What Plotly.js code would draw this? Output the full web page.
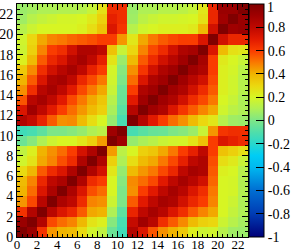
<!DOCTYPE html>
<html>
<head>
<meta charset="utf-8">
<script src="https://cdn.plot.ly/plotly-3.0.1.min.js"></script>
<style>html,body{margin:0;padding:0;background:#fff;}#chart{width:303px;height:252px;}</style>
</head>
<body>
<div id="chart"></div>
<script>
// Variable indices (0..22) and lower-triangle correlation values, row by row
const labels = [0,1,2,3,4,5,6,7,8,9,10,11,12,13,14,15,16,17,18,19,20,21,22];
const r0  = [1];
const r1  = [0.92, 1];
const r2  = [0.63, 0.84, 1];
const r3  = [0.45, 0.58, 0.82, 1];
const r4  = [0.40, 0.52, 0.72, 0.86, 1];
const r5  = [0.38, 0.48, 0.66, 0.80, 0.86, 1];
const r6  = [0.29, 0.39, 0.55, 0.65, 0.72, 0.85, 1];
const r7  = [0.18, 0.26, 0.42, 0.48, 0.57, 0.65, 0.85, 1];
const r8  = [0.14, 0.22, 0.40, 0.46, 0.52, 0.60, 0.74, 0.85, 1];
const r9  = [-0.04, 0.02, 0.10, 0.17, 0.20, 0.20, 0.25, 0.32, 0.44, 1];
const r10 = [-0.14, -0.12, -0.07, 0.00, 0.00, 0.02, 0.05, 0.10, 0.13, 0.90, 1];
const r11 = [0.84, 0.78, 0.67, 0.55, 0.46, 0.47, 0.38, 0.28, 0.20, 0.05, -0.12, 1];
const r12 = [0.72, 0.90, 0.80, 0.70, 0.60, 0.52, 0.45, 0.38, 0.32, 0.09, -0.08, 0.83, 1];
const r13 = [0.56, 0.82, 0.88, 0.80, 0.70, 0.58, 0.50, 0.42, 0.35, 0.12, -0.05, 0.70, 0.90, 1];
const r14 = [0.46, 0.64, 0.82, 0.88, 0.80, 0.70, 0.58, 0.50, 0.42, 0.16, -0.04, 0.60, 0.85, 0.90, 1];
const r15 = [0.40, 0.55, 0.72, 0.85, 0.88, 0.80, 0.66, 0.58, 0.50, 0.18, 0.00, 0.52, 0.72, 0.85, 0.90, 1];
const r16 = [0.34, 0.47, 0.64, 0.75, 0.82, 0.88, 0.80, 0.68, 0.60, 0.19, 0.02, 0.46, 0.62, 0.75, 0.85, 0.90, 1];
const r17 = [0.22, 0.38, 0.55, 0.66, 0.72, 0.82, 0.88, 0.80, 0.68, 0.26, 0.06, 0.38, 0.55, 0.65, 0.75, 0.82, 0.90, 1];
const r18 = [0.17, 0.32, 0.48, 0.60, 0.64, 0.75, 0.85, 0.85, 0.80, 0.36, 0.16, 0.30, 0.48, 0.58, 0.65, 0.75, 0.85, 0.88, 1];
const r19 = [0.18, 0.30, 0.42, 0.48, 0.50, 0.53, 0.55, 0.57, 0.60, 0.60, 0.45, 0.25, 0.42, 0.50, 0.55, 0.58, 0.60, 0.60, 0.72, 1];
const r20 = [0.12, 0.17, 0.20, 0.20, 0.20, 0.20, 0.22, 0.28, 0.36, 0.72, 0.62, 0.12, 0.18, 0.20, 0.22, 0.22, 0.22, 0.24, 0.38, 0.75, 1];
const r21 = [0.07, 0.12, 0.15, 0.17, 0.19, 0.19, 0.20, 0.24, 0.32, 0.68, 0.64, 0.07, 0.13, 0.16, 0.18, 0.18, 0.19, 0.20, 0.27, 0.66, 0.90, 1];
const r22 = [0.06, 0.08, 0.10, 0.10, 0.11, 0.11, 0.12, 0.16, 0.27, 0.65, 0.64, 0.06, 0.10, 0.10, 0.12, 0.12, 0.13, 0.16, 0.25, 0.66, 0.92, 0.92, 1];
const lower = [r0,r1,r2,r3,r4,r5,r6,r7,r8,r9,r10,r11,r12,r13,r14,r15,r16,r17,r18,r19,r20,r21,r22];

// colour-bar ticks; the top label "1" is drawn separately so it stays inside the canvas
const cbTicks = [-1,-0.8,-0.6,-0.4,-0.2,0,0.2,0.4,0.6,0.8,1];
const cbText  = ['-1','-0.8','-0.6','-0.4','-0.2','0','0.2','0.4','0.6','0.8',''];
const cbTopLabel = '1';

// symmetric matrix from the lower triangle
const n = labels.length;
const z = [];
for (let i = 0; i < n; i++) {
  const row = [];
  for (let j = 0; j < n; j++) row.push(j <= i ? lower[i][j] : lower[j][i]);
  z.push(row);
}
const centers = labels.map(v => v + 0.5);

const cs = [
  [0.00,'rgb(0,0,120)'],
  [0.10,'rgb(0,60,180)'],
  [0.20,'rgb(0,110,210)'],
  [0.30,'rgb(0,185,240)'],
  [0.35,'rgb(0,205,245)'],
  [0.40,'rgb(40,215,205)'],
  [0.45,'rgb(80,222,170)'],
  [0.50,'rgb(125,230,135)'],
  [0.55,'rgb(175,240,85)'],
  [0.60,'rgb(215,245,35)'],
  [0.65,'rgb(235,215,15)'],
  [0.70,'rgb(240,180,0)'],
  [0.75,'rgb(250,120,0)'],
  [0.80,'rgb(250,60,0)'],
  [0.85,'rgb(225,25,0)'],
  [0.90,'rgb(190,8,0)'],
  [0.95,'rgb(160,0,0)'],
  [1.00,'rgb(128,0,0)']
];

const serif = '"Liberation Serif", "DejaVu Serif", serif';
const font = {family: serif, size: 14, color: '#000'};

const trace = {
  type: 'heatmap',
  x: centers, y: centers, z: z,
  zmin: -1.0005, zmax: 1.0005,
  colorscale: cs,
  xgap: 0, ygap: 0,
  hoverinfo: 'skip',
  colorbar: {
    thickness: 15, thicknessmode: 'pixels',
    len: 1, lenmode: 'fraction',
    x: 1.004, xanchor: 'left', xpad: 0,
    y: 0, yanchor: 'bottom', ypad: 0,
    outlinecolor: '#000', outlinewidth: 1,
    tickmode: 'array',
    tickvals: cbTicks, ticktext: cbText,
    ticks: 'inside', ticklen: 8, tickcolor: '#000', tickwidth: 1,
    tickfont: font
  }
};

const axisCommon = {
  range: [0, 23],
  tick0: 0, dtick: 2,
  ticks: 'inside', ticklen: 6, tickcolor: '#000', tickwidth: 1,
  minor: {ticks: 'inside', ticklen: 3, dtick: 0.5, tickcolor: '#000', tickwidth: 1},
  showline: true, linecolor: '#000', linewidth: 1, mirror: 'allticks',
  showgrid: false, zeroline: false,
  tickfont: font
};

const layout = {
  width: 303, height: 252,
  margin: {l: 17, r: 42, t: 4, b: 15, pad: 0},
  paper_bgcolor: '#fff', plot_bgcolor: '#fff',
  xaxis: Object.assign({}, axisCommon, {ticklabelstandoff: -5, tickfont: {family: serif, size: 13, color: '#000'}}),
  yaxis: Object.assign({}, axisCommon, {ticklabelstandoff: 0}),
  font: font,
  showlegend: false,
  annotations: [{
    text: cbTopLabel, showarrow: false,
    xref: 'paper', yref: 'paper',
    x: 1.0725, xanchor: 'left',
    y: 0.983, yanchor: 'middle',
    font: font
  }]
};

Plotly.newPlot('chart', [trace], layout, {staticPlot: true, displayModeBar: false});
</script>
</body>
</html>
